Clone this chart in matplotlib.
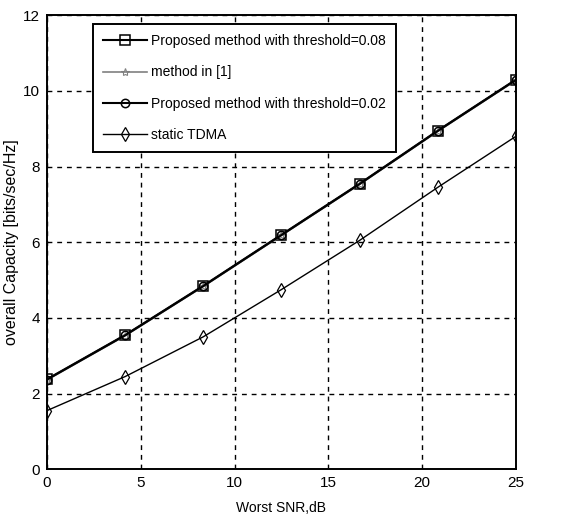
import numpy as np
import matplotlib
matplotlib.use('Agg')
import matplotlib.pyplot as plt

plt.rcParams['font.family'] = ['Liberation Sans Narrow', 'Liberation Sans', 'DejaVu Sans']

# data
snr = [0, 4.17, 8.33, 12.5, 16.67, 20.83, 25]
prop_008 = [2.38, 3.55, 4.85, 6.2, 7.55, 8.95, 10.3]
method_1 = [2.36, 3.53, 4.83, 6.18, 7.53, 8.93, 10.28]
prop_002 = [2.37, 3.54, 4.84, 6.19, 7.54, 8.94, 10.29]
static_tdma = [1.55, 2.45, 3.5, 4.75, 6.05, 7.45, 8.8]

fig = plt.figure(figsize=(5.81, 5.26), dpi=100)
ax = fig.add_axes([0.081, 0.108, 0.807, 0.863])

ax.plot(snr, prop_008, '-s', color='black', lw=1.5, ms=7, mfc='none', mew=1.1,
        label='Proposed method with threshold=0.08')
ax.plot(snr, method_1, '-*', color='gray', lw=1.2, ms=6, mfc='none', mew=0.8,
        label='method in [1]')
ax.plot(snr, prop_002, '-o', color='black', lw=1.5, ms=6, mfc='none', mew=1.1,
        label='Proposed method with threshold=0.02')
ax.plot(snr, static_tdma, '-d', color='black', lw=1.0, ms=7, mfc='none', mew=0.9,
        label='static TDMA')

ax.set_xlim(0, 25)
ax.set_ylim(0, 12)
ax.set_xticks([0, 5, 10, 15, 20, 25])
ax.set_yticks([0, 2, 4, 6, 8, 10, 12])
ax.grid(True, linestyle=(0, (3.5, 3.5)), color='black', lw=1.0)
ax.tick_params(direction='in', labelsize=11, length=0, pad=5)
for s in ax.spines.values():
    s.set_linewidth(1.4)

ax.set_xlabel('Worst SNR,dB', fontsize=10, labelpad=8)
ax.set_ylabel('overall Capacity [bits/sec/Hz]', fontsize=11.5)
ax.yaxis.set_label_coords(-0.06, 0.5)

leg = ax.legend(loc='upper left', bbox_to_anchor=(0.098, 0.98), fontsize=10,
                fancybox=False, framealpha=1, edgecolor='black', borderaxespad=0,
                handlelength=3.2, borderpad=0.7, labelspacing=1.25, handletextpad=0.3)
leg.get_frame().set_linewidth(1.4)

fig.savefig('out.png', dpi=100)
